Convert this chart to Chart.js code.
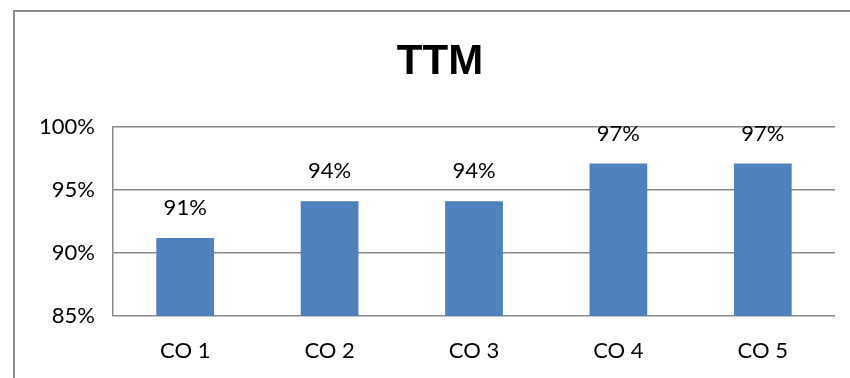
<!DOCTYPE html>
<html>
<head>
<meta charset="utf-8">
<script src="https://cdn.jsdelivr.net/npm/chart.js@4/dist/chart.umd.min.js"></script>
<style>
  html, body { margin: 0; padding: 0; background: #ffffff; }
  #wrap { width: 850px; height: 378px; position: relative; }
</style>
</head>
<body>
<div id="wrap"><canvas id="c" width="850" height="378"></canvas></div>
<script>
// Chart content
const chartTitle = 'TTM';
const categories = ['CO 1', 'CO 2', 'CO 3', 'CO 4', 'CO 5'];
const ttmValues = [91.2, 94.1, 94.1, 97.1, 97.1];
const yTicks = [85, 90, 95, 100];

const barColor = '#4f81bd';
const gridColor = '#888888';
const labelFont = 'Lato, "Open Sans", sans-serif';

// Outer frame and centred title
const framePlugin = {
  id: 'frame',
  beforeDraw(chart) {
    const ctx = chart.ctx;
    ctx.save();
    ctx.fillStyle = '#ffffff';
    ctx.fillRect(0, 0, chart.width, chart.height);
    ctx.strokeStyle = '#8c8c8c';
    ctx.lineWidth = 2;
    ctx.strokeRect(14, 11, chart.width + 20, chart.height + 20);
    ctx.fillStyle = '#000000';
    ctx.font = 'bold 42px "Liberation Sans", Arial, sans-serif';
    ctx.textAlign = 'center';
    ctx.textBaseline = 'middle';
    ctx.fillText(chartTitle, 440, 62);
    ctx.restore();
  }
};

// Value labels above each bar
const valueLabelPlugin = {
  id: 'valueLabels',
  afterDatasetsDraw(chart) {
    const ctx = chart.ctx;
    const meta = chart.getDatasetMeta(0);
    ctx.save();
    ctx.fillStyle = '#000000';
    ctx.font = '22px ' + labelFont;
    ctx.textAlign = 'center';
    ctx.textBaseline = 'middle';
    meta.data.forEach((bar, i) => {
      const v = chart.data.datasets[0].data[i];
      ctx.fillText(Math.round(v) + '%', bar.x, bar.y - 30);
    });
    ctx.restore();
  }
};

new Chart(document.getElementById('c'), {
  type: 'bar',
  data: {
    labels: categories,
    datasets: [{
      data: ttmValues,
      backgroundColor: barColor,
      borderWidth: 0,
      barPercentage: 0.4,
      categoryPercentage: 1.0
    }]
  },
  options: {
    responsive: false,
    animation: false,
    devicePixelRatio: 1,
    layout: { padding: { left: 0, top: 127, right: 15, bottom: 0 } },
    plugins: {
      legend: { display: false },
      title: { display: false },
      tooltip: { enabled: false }
    },
    scales: {
      x: {
        grid: { display: false, drawTicks: false },
        border: { display: false },
        ticks: {
          color: '#000000',
          font: { family: labelFont, size: 22 },
          padding: 22
        },
        afterFit(scale) { scale.height = 62; }
      },
      y: {
        min: 85,
        max: 100,
        afterBuildTicks(scale) { scale.ticks = yTicks.map(v => ({ value: v })); },
        grid: { color: gridColor, lineWidth: 1.5, drawTicks: false },
        border: { display: true, color: gridColor, width: 1.5 },
        ticks: {
          color: '#000000',
          font: { family: labelFont, size: 22 },
          padding: 18,
          callback: v => v + '%'
        },
        afterFit(scale) { scale.width = 113; }
      }
    }
  },
  plugins: [framePlugin, valueLabelPlugin]
});
</script>
</body>
</html>
